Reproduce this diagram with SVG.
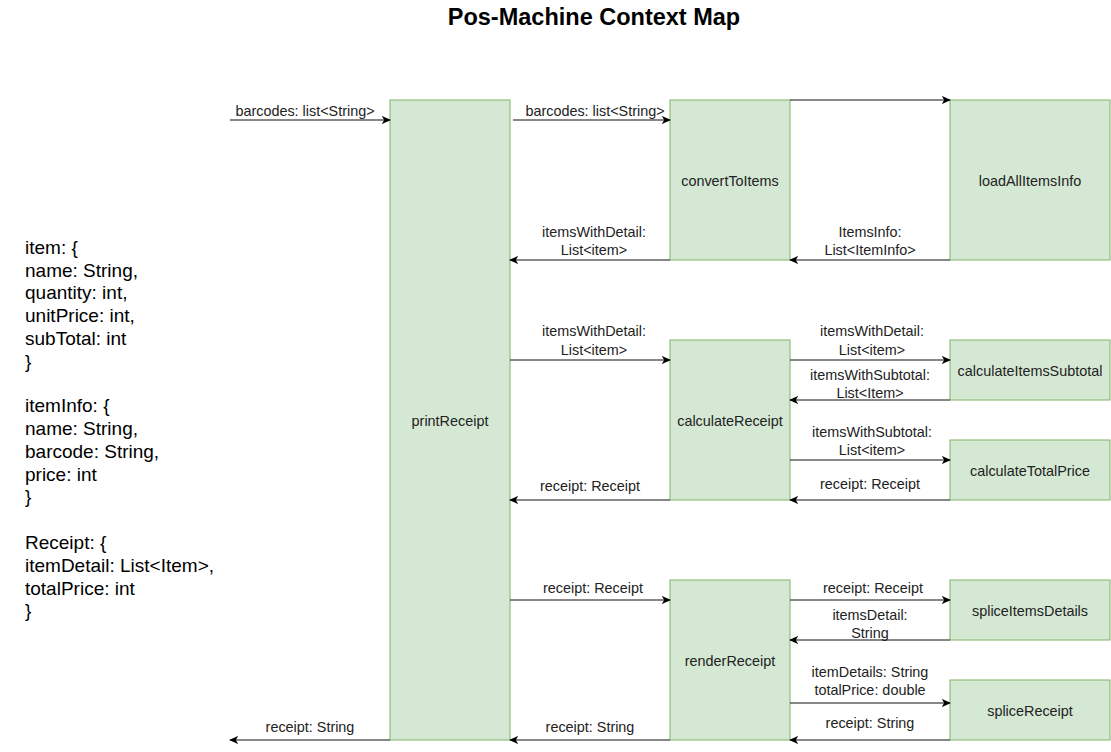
<svg xmlns="http://www.w3.org/2000/svg" width="1111" height="752" viewBox="0 0 1111 752">
<style>
.n{fill:#d5e8d4;stroke:#82b366;stroke-width:1}
.t{font-family:"Liberation Sans",Arial,sans-serif;font-size:14.4px;fill:#222;text-anchor:middle}
.e{stroke:#111;stroke-width:1;fill:none;marker-end:url(#a)}
.el{font-family:"Liberation Sans",Arial,sans-serif;font-size:14.4px;fill:#222;text-anchor:middle}
.side{font-family:"Liberation Sans",Arial,sans-serif;font-size:19px;fill:#000}
</style>
<defs>
<marker id="a" viewBox="0 0 10 10" refX="9" refY="5" markerWidth="9" markerHeight="9" markerUnits="userSpaceOnUse" orient="auto">
<path d="M0,0.5 L10,5 L0,9.5 L2.5,5 Z" fill="#000"/>
</marker>
</defs>
<rect width="1111" height="752" fill="#fff"/>
<text x="594" y="25" font-family="Liberation Sans,Arial,sans-serif" font-size="23.5" font-weight="bold" text-anchor="middle">Pos-Machine Context Map</text>

<g id="printReceipt"><rect class="n" x="390" y="100" width="120" height="640"/><text class="t" x="450" y="426">printReceipt</text></g>
<g id="convertToItems"><rect class="n" x="670" y="100" width="120" height="160"/><text class="t" x="730" y="186">convertToItems</text></g>
<g id="loadAllItemsInfo"><rect class="n" x="950" y="100" width="160" height="160"/><text class="t" x="1030" y="186">loadAllItemsInfo</text></g>
<g id="calculateReceipt"><rect class="n" x="670" y="340" width="120" height="160"/><text class="t" x="730" y="426">calculateReceipt</text></g>
<g id="calculateItemsSubtotal"><rect class="n" x="950" y="340" width="160" height="60"/><text class="t" x="1030" y="376">calculateItemsSubtotal</text></g>
<g id="calculateTotalPrice"><rect class="n" x="950" y="440" width="160" height="60"/><text class="t" x="1030" y="476">calculateTotalPrice</text></g>
<g id="renderReceipt"><rect class="n" x="670" y="580" width="120" height="160"/><text class="t" x="730" y="666">renderReceipt</text></g>
<g id="spliceItemsDetails"><rect class="n" x="950" y="580" width="160" height="60"/><text class="t" x="1030" y="616">spliceItemsDetails</text></g>
<g id="spliceReceipt"><rect class="n" x="950" y="680" width="160" height="60"/><text class="t" x="1030" y="716">spliceReceipt</text></g>

<g id="connectors">
<path class="e" d="M230,120 H390"/><text class="el" x="305" y="116">barcodes: list&lt;String&gt;</text>
<path class="e" d="M513,120 H670"/><text class="el" x="595" y="116">barcodes: list&lt;String&gt;</text>
<path class="e" d="M790,100 H950"/>
<path class="e" d="M670,260 H510"/><text class="el" x="594" y="237">itemsWithDetail:</text><text class="el" x="594" y="255">List&lt;item&gt;</text>
<path class="e" d="M950,260 H790"/><text class="el" x="870" y="237">ItemsInfo:</text><text class="el" x="870" y="255">List&lt;ItemInfo&gt;</text>
<path class="e" d="M510,360 H670"/><text class="el" x="594" y="336">itemsWithDetail:</text><text class="el" x="594" y="355">List&lt;item&gt;</text>
<path class="e" d="M790,360 H950"/><text class="el" x="872" y="336">itemsWithDetail:</text><text class="el" x="872" y="355">List&lt;item&gt;</text>
<path class="e" d="M950,400 H790"/><text class="el" x="870" y="380">itemsWithSubtotal:</text><text class="el" x="870" y="398">List&lt;Item&gt;</text>
<path class="e" d="M790,460 H950"/><text class="el" x="872" y="437">itemsWithSubtotal:</text><text class="el" x="872" y="455">List&lt;item&gt;</text>
<path class="e" d="M950,500 H790"/><text class="el" x="870" y="489">receipt: Receipt</text>
<path class="e" d="M670,500 H510"/><text class="el" x="590" y="491">receipt: Receipt</text>
<path class="e" d="M510,600 H670"/><text class="el" x="593" y="593">receipt: Receipt</text>
<path class="e" d="M790,600 H950"/><text class="el" x="873" y="593">receipt: Receipt</text>
<path class="e" d="M950,640 H790"/><text class="el" x="870" y="620">itemsDetail:</text><text class="el" x="870" y="638">String</text>
<path class="e" d="M790,703 H950"/><text class="el" x="870" y="677">itemDetails: String</text><text class="el" x="870" y="695">totalPrice: double</text>
<path class="e" d="M950,740 H790"/><text class="el" x="870" y="728">receipt: String</text>
<path class="e" d="M670,740 H510"/><text class="el" x="590" y="732">receipt: String</text>
<path class="e" d="M390,740 H230"/><text class="el" x="310" y="732">receipt: String</text>
</g>

<g id="types">
<text class="side" x="25" y="254">item: {</text>
<text class="side" x="25" y="277">name: String,</text>
<text class="side" x="25" y="299">quantity: int,</text>
<text class="side" x="25" y="322">unitPrice: int,</text>
<text class="side" x="25" y="345">subTotal: int</text>
<text class="side" x="25" y="368">}</text>
<text class="side" x="25" y="412">itemInfo: {</text>
<text class="side" x="25" y="435">name: String,</text>
<text class="side" x="25" y="458">barcode: String,</text>
<text class="side" x="25" y="481">price: int</text>
<text class="side" x="25" y="503">}</text>
<text class="side" x="25" y="549">Receipt: {</text>
<text class="side" x="25" y="572">itemDetail: List&lt;Item&gt;,</text>
<text class="side" x="25" y="595">totalPrice: int</text>
<text class="side" x="25" y="617">}</text>
</g>
</svg>
